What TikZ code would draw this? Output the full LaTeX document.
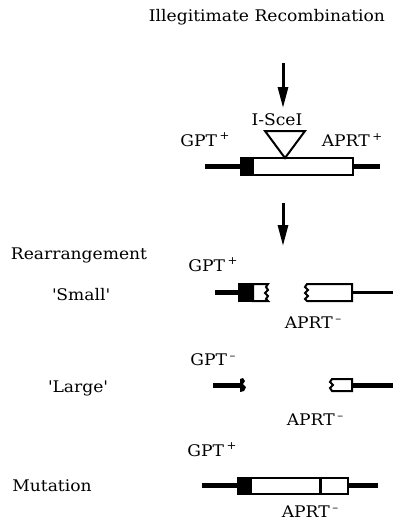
\documentclass[tikz,border=0pt]{standalone}
\usepackage{fontspec}
\usetikzlibrary{arrows.meta}
\newfontfamily\labfont{DejaVu Serif}[FakeStretch=1.07]
\newcommand{\lab}{\labfont\fontsize{16}{18}\selectfont}
% raised plus/minus marks after gene names
\newcommand{\genemark}[1]{\,\raisebox{0.42em}{\fontsize{11}{11}\selectfont #1}}
\begin{document}
\begin{tikzpicture}[x=1pt,y=-1pt,
  lbl/.style={font=\lab, inner sep=0pt},
  dna/.style={line width=5pt},
  thindna/.style={line width=3.5pt},
  gene/.style={draw, line width=2pt, fill=white},
  marker/.style={fill=black},
  arr/.style={line width=3pt, -{Triangle[length=21pt,width=10pt]}}]
\useasboundingbox (0,0) rectangle (393,523);

% heading and arrows
\node[lbl] (title) at (267,17) {Illegitimate Recombination};
\coordinate (a1s) at (283,63);
\coordinate (a1e) at (283,108);
\draw[arr] (a1s) -- (a1e);
\coordinate (a2s) at (283,203);
\coordinate (a2e) at (283,246);
\draw[arr] (a2s) -- (a2e);

% intact construct with I-SceI site
\node[lbl] (isce) at (277,120) {I-SceI};
\node[lbl] (gpt1) at (205,140) {GPT\genemark{+}};
\node[lbl] (aprt1) at (352,140) {APRT\genemark{+}};
\draw[dna] (205,166.5) -- (240,166.5);
\draw[dna] (353,166.5) -- (380,166.5);
\fill[marker] (240,157) rectangle (253,176);
\draw[gene] (253,158) rectangle (353,175);
\draw[line width=2pt, fill=white, line join=miter] (265,131) -- (305,131) -- (285,158) -- cycle;

% small rearrangement
\node[lbl] (rearr) at (79,255) {Rearrangement};
\node[lbl] (gpt2) at (213,265) {GPT\genemark{+}};
\node[lbl] (small) at (81,295) {\textquotesingle Small\textquotesingle};
\node[lbl] (aprt2) at (313,323) {APRT\genemark{–}};
\draw[dna] (215,292.5) -- (238,292.5);
\fill[marker] (238,283) rectangle (253,302);
\draw[line width=2pt, fill=white] (253,284) -- (268,284) -- (266,287) -- (268,290) -- (265,293)
  -- (268,296) -- (266,299) -- (268,301) -- (253,301) -- cycle;
\draw[thindna] (352,292.5) -- (393,292.5);
\draw[line width=2pt, fill=white] (352,284) -- (307,284) -- (305,287) -- (308,290) -- (305,293)
  -- (308,296) -- (305,299) -- (307,301) -- (352,301) -- cycle;

% large rearrangement
\node[lbl] (gpt3) at (213,360) {GPT\genemark{–}};
\node[lbl] (large) at (78,388) {\textquotesingle Large\textquotesingle};
\node[lbl] (aprt3) at (315,420) {APRT\genemark{–}};
\draw[dna] (213,385.5) -- (241,385.5);
\fill[marker] (240,379) -- (243,378) -- (245,381) -- (243,384) -- (246,387) -- (244,391) -- (240,392) -- cycle;
\draw[dna] (352,385.5) -- (393,385.5);
\draw[line width=2pt, fill=white] (352,379) -- (332,379) -- (330,382) -- (333,385) -- (330,388)
  -- (332,391) -- (352,391) -- cycle;

% point mutation
\node[lbl] (gpt4) at (212,450) {GPT\genemark{+}};
\node[lbl] (mut) at (52,486) {Mutation};
\node[lbl] (aprt4) at (310,512) {APRT\genemark{–}};
\draw[dna] (202,485.5) -- (237,485.5);
\draw[dna] (348,485.5) -- (378,485.5);
\fill[marker] (237,477) rectangle (251,495);
\draw[gene] (251,478) rectangle (348,494);
\draw[line width=3pt] (320,478) -- (320,494);
\end{tikzpicture}
\end{document}
